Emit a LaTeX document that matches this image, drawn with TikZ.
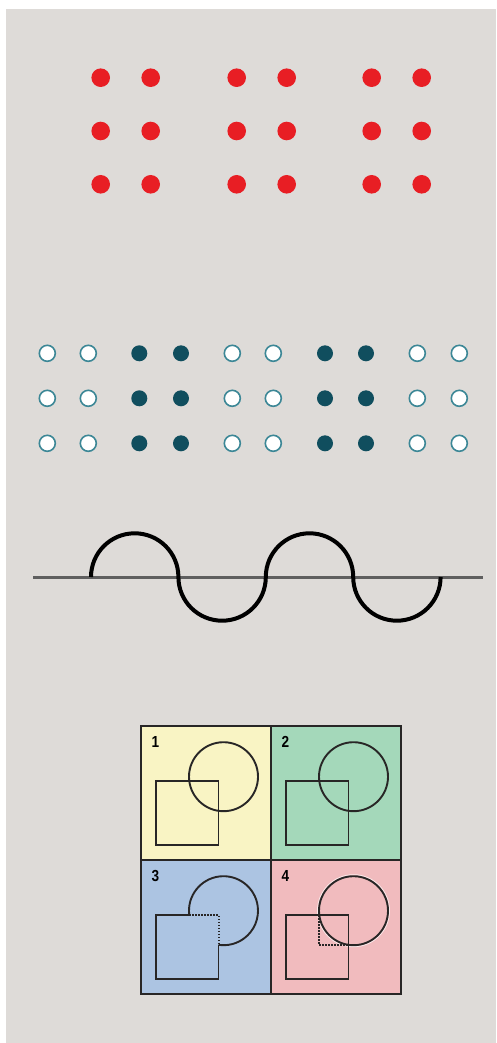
\documentclass[tikz,border=0pt]{standalone}
\usepackage{fontspec}
\setsansfont{Liberation Sans}
\definecolor{bggray}{RGB}{222,219,216}
\definecolor{dotred}{RGB}{232,30,36}
\definecolor{tealdark}{RGB}{16,78,94}
\definecolor{tealring}{RGB}{60,135,150}
\definecolor{axisgray}{RGB}{95,95,95}
\definecolor{cellyellow}{RGB}{249,244,196}
\definecolor{cellgreen}{RGB}{164,216,186}
\definecolor{cellblue}{RGB}{172,196,226}
\definecolor{cellpink}{RGB}{241,187,190}
\definecolor{inkline}{RGB}{40,38,38}
\tikzset{
  reddot/.style={fill=dotred},
  filleddot/.style={fill=tealdark},
  opendot/.style={fill=white, draw=tealring, line width=1.6pt},
  axisline/.style={draw=axisgray, line width=3pt},
  waveline/.style={draw=black, line width=4pt},
  frameline/.style={draw=inkline, line width=1.4pt},
  shapeline/.style={draw=inkline, line width=1.9pt},
  dotline/.style={draw=inkline, line width=2pt, dash pattern=on 1.5pt off 1.5pt},
  celllabel/.style={font=\sffamily\bfseries\fontsize{16}{16}\selectfont, inner sep=0pt, xscale=0.85}
}
\begin{document}
\begin{tikzpicture}[x=1pt,y=-1pt]
\useasboundingbox (0,0) rectangle (496,1043);
\fill[bggray] (6,9) rectangle (496,1043);

% red dots
\foreach \xx in {100.7,150.7,236.7,286.7,371.7,421.7}
  \foreach \yy in {77.7,131,184.3}
    \fill[reddot] (\xx,\yy) circle[radius=9.3pt];

% teal dots
\foreach \xx/\kind in {47.3/opendot,88.3/opendot,139.3/filleddot,181/filleddot,232.3/opendot,273.3/opendot,325/filleddot,366/filleddot,417.3/opendot,459.3/opendot}
  \foreach \yy in {353.3,398.3,443.3}
    \path[\kind] (\xx,\yy) circle[radius=8pt];

% wave
\coordinate (axL) at (33,577);
\coordinate (axR) at (483,577);
\coordinate (w0) at (91,577);
\draw[axisline] (axL) -- (axR);
\draw[waveline] (w0) arc[start angle=180, end angle=0, radius=43.7pt]
  arc[start angle=180, end angle=360, radius=43.7pt]
  arc[start angle=180, end angle=0, radius=43.7pt]
  arc[start angle=180, end angle=360, radius=43.7pt];

% quad panel
\fill[cellyellow] (141,726) rectangle (271,860);
\fill[cellgreen] (271,726) rectangle (401,860);
\fill[cellblue] (141,860) rectangle (271,994);
\fill[cellpink] (271,860) rectangle (401,994);
\draw[frameline] (141,726) rectangle (401,994);
\draw[frameline] (271,726) -- (271,994);
\draw[frameline] (141,860) -- (401,860);

% cell 1
\begin{scope}[shift={(141,726)}]
  \node[celllabel] (l1) at (14.5,15.7) {1};
  \draw[shapeline] (82.5,50.7) circle[radius=34.5pt];
  \draw[shapeline] (15,55) rectangle (77.5,119);
\end{scope}
% cell 2
\begin{scope}[shift={(271,726)}]
  \node[celllabel] (l2) at (14.5,15.7) {2};
  \draw[shapeline] (82.5,50.7) circle[radius=34.5pt];
  \draw[shapeline] (15,55) rectangle (77.5,119);
\end{scope}
% cell 3
\begin{scope}[shift={(141,860)}]
  \node[celllabel] (l3) at (14.5,15.7) {3};
  \draw[shapeline] (48.27,55) arc[start angle=187.16, end angle=-98.33, radius=34.5pt];
  \draw[shapeline, line join=miter] (48.27,55) -- (15,55) -- (15,119) -- (77.5,119) -- (77.5,84.84);
  \draw[dotline] (48.27,55) -- (77.5,55) -- (77.5,84.84);
\end{scope}
% cell 4
\begin{scope}[shift={(271,860)}]
  \node[celllabel] (l4) at (14.5,15.7) {4};
  \draw[white, opacity=0.7, line width=0.9pt] (82.5,50.7) circle[radius=36pt];
  \draw[shapeline] (82.5,50.7) circle[radius=34.5pt];
  \draw[shapeline] (15,55) rectangle (77.5,119);
  \draw[dotline] (48.27,55) -- (48.27,84.84) -- (77.5,84.84);
\end{scope}
\end{tikzpicture}
\end{document}
